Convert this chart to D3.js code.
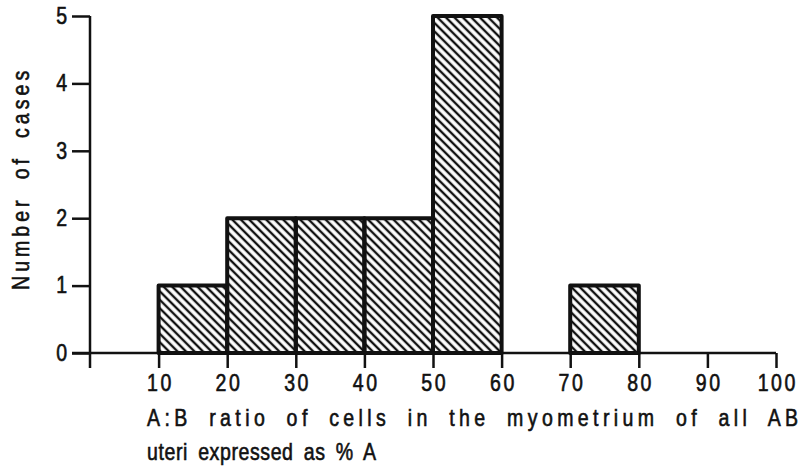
<!DOCTYPE html>
<html><head>
<meta charset="utf-8">
<script src="https://d3js.org/d3.v7.min.js"></script>
<style>
  body { margin: 0; background: #fff; }
  svg text { font-family: "Liberation Sans", Arial, sans-serif; fill: #111; font-size: 23px; stroke: #111; stroke-width: 0.6px; }
  .axis line, .axis path { stroke: #111; stroke-width: 2.5px; }
  .bar { stroke: #111; stroke-width: 4px; stroke-linejoin: round; fill: url(#hatch); }
  .title { word-spacing: 9px; letter-spacing: 1px; }
  .title2 { word-spacing: 5px; letter-spacing: 0px; }
</style>
</head>
<body>
<svg id="chart" width="803" height="469"></svg>
<script>
// bins of the histogram (percent A) and number of cases in each
const binStart = [10, 20, 30, 40, 50, 70];
const binEnd   = [20, 30, 40, 50, 60, 80];
const cases    = [1, 2, 2, 2, 5, 1];
const xTicks = [10, 20, 30, 40, 50, 60, 70, 80, 90, 100];
const yTicks = [0, 1, 2, 3, 4, 5];

const svg = d3.select("#chart");
const x = d3.scaleLinear().domain([0, 100]).range([90, 776]);
const y = d3.scaleLinear().domain([0, 5]).range([353, 16]);
const squeeze = 0.85; // old typeface is narrower than Liberation Sans

// diagonal hatching
const defs = svg.append("defs");
const pat = defs.append("pattern")
  .attr("id", "hatch")
  .attr("patternUnits", "userSpaceOnUse")
  .attr("width", 6).attr("height", 6)
  .attr("patternTransform", "rotate(-45)");
pat.append("line")
  .attr("x1", 3).attr("y1", 0).attr("x2", 3).attr("y2", 6)
  .attr("stroke", "#111").attr("stroke-width", 2.4);

const data = binStart.map((d, i) => ({ a: d, b: binEnd[i], n: cases[i] }));

svg.selectAll(".bar").data(data)
  .enter().append("rect")
  .attr("class", "bar")
  .attr("x", d => x(d.a))
  .attr("y", d => y(d.n))
  .attr("width", d => x(d.b) - x(d.a))
  .attr("height", d => y(0) - y(d.n));

// x axis (ticks hang down)
const xAxis = d3.axisBottom(x).tickValues(xTicks).tickFormat(d3.format("d"))
  .tickSize(15).tickPadding(7).tickSizeOuter(0);
const xg = svg.append("g").attr("class", "axis").attr("transform", "translate(0," + y(0) + ")").call(xAxis);
xg.select(".domain").attr("d", "M72,0H776");
xg.selectAll("text")
  .attr("letter-spacing", 3).attr("dx", 1.5)
  .attr("transform", "scale(" + squeeze + ",1)");

// y axis (ticks point left)
const yAxis = d3.axisLeft(y).tickValues(yTicks).tickFormat(d3.format("d"))
  .tickSize(18).tickPadding(5).tickSizeOuter(0);
const yg = svg.append("g").attr("class", "axis").attr("transform", "translate(" + x(0) + ",0)").call(yAxis);
yg.select(".domain").attr("d", "M0," + y(5) + "V368");
yg.selectAll("text")
  .attr("x", -23 / squeeze)
  .attr("transform", "scale(" + squeeze + ",1)");

// titles
svg.append("text")
  .attr("class", "title")
  .attr("transform", "translate(147,426) scale(" + squeeze + ",1)")
  .attr("textLength", 652 / squeeze).attr("lengthAdjust", "spacing")
  .text("A:B ratio of cells in the myometrium of all AB");
svg.append("text")
  .attr("class", "title2")
  .attr("transform", "translate(147,460) scale(" + squeeze + ",1)")
  .attr("textLength", 229 / squeeze).attr("lengthAdjust", "spacing")
  .text("uteri expressed as % A");
svg.append("text")
  .attr("class", "title")
  .attr("transform", "translate(29,180) rotate(-90) scale(" + squeeze + ",1)")
  .attr("text-anchor", "middle")
  .attr("textLength", 220 / squeeze).attr("lengthAdjust", "spacing")
  .text("Number of cases");
</script>
</body>
</html>
